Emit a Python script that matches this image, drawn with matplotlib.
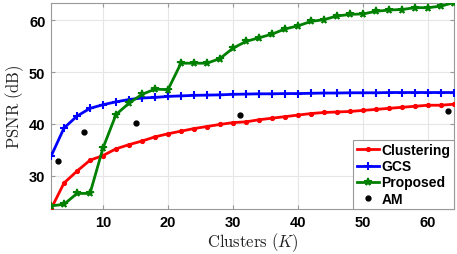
import matplotlib
matplotlib.use("Agg")
import matplotlib.pyplot as plt
import numpy as np

K = list(range(2, 65, 2))
clustering = [23.6, 28.6, 30.9, 33.0, 33.9, 35.2, 36.0, 36.7, 37.5, 38.1,
              38.6, 39.1, 39.5, 39.9, 40.25, 40.4, 40.8, 41.1, 41.4, 41.7,
              42.0, 42.2, 42.3, 42.4, 42.6, 42.8, 43.0, 43.2, 43.4, 43.6,
              43.6, 43.8]
gcs = [33.75, 39.2, 41.5, 43.0, 43.7, 44.25, 44.7, 45.0, 45.1, 45.3,
       45.4, 45.5, 45.55, 45.6, 45.7, 45.75, 45.8, 45.8, 45.85, 45.85,
       45.9, 45.95, 45.95, 46.0, 46.0, 46.0, 46.05, 46.05, 46.05, 46.05,
       46.05, 46.05]
proposed = [24.2, 24.5, 26.6, 26.6, 35.35, 41.8, 44.0, 45.7, 46.7, 46.6,
            51.7, 51.7, 51.7, 52.6, 54.6, 55.9, 56.6, 57.3, 58.3, 58.9,
            59.75, 60.1, 60.8, 61.1, 61.2, 61.7, 61.95, 62.05, 62.4, 62.4,
            62.7, 63.4]
am_K = [3, 7, 15, 31, 63]
am = [32.9, 38.5, 40.2, 41.8, 42.55]

xticks = [10, 20, 30, 40, 50, 60]
yticks = [30, 40, 50, 60]

plt.rcParams['mathtext.fontset'] = 'cm'
tickfont = {'family': 'Liberation Sans', 'weight': 'bold', 'size': 10.5}

fig = plt.figure(figsize=(4.57, 2.55), dpi=100)
ax = fig.add_axes([51/457, 1-210/255, (454-51)/457, (210-3.5)/255])

ax.plot(K, clustering, color='red', lw=2, marker='.', ms=5.5, label='Clustering', zorder=3)
ax.plot(K, gcs, color='blue', lw=2, marker='+', ms=5.5, mew=1.5, label='GCS', zorder=3)
ax.plot(K, proposed, color='#008000', lw=2, marker='*', ms=5.5, mew=1.2, label='Proposed', zorder=3)
ax.plot(am_K, am, ls='none', color='black', marker='.', ms=7, label='AM', zorder=4)

ax.set_xlim(2, 64)
ax.set_ylim(23.6, 63.4)
ax.set_xticks(xticks)
ax.set_yticks(yticks)
ax.set_xticklabels([str(t) for t in xticks], fontdict=tickfont)
ax.set_yticklabels([str(t) for t in yticks], fontdict=tickfont)
ax.tick_params(direction='in', length=3, color='#999999', pad=4, top=True, right=True)
ax.grid(True, color='#e6e6e6', lw=0.8, zorder=0)
ax.set_axisbelow(True)
for s in ax.spines.values():
    s.set_color('#999999')
    s.set_linewidth(0.8)

ax.set_xlabel(r'$\mathrm{Clusters}\ (K)$', fontsize=12, labelpad=1, color='#222222')
ax.set_ylabel(r'$\mathrm{PSNR\ (dB)}$', fontsize=12, labelpad=2, color='#222222')

leg = ax.legend(loc='lower right', borderaxespad=0, fancybox=False,
                prop={'family': 'Liberation Sans', 'weight': 'bold', 'size': 10},
                handlelength=1.6, handletextpad=0.2, labelspacing=0.15,
                borderpad=0.25, framealpha=1)
leg.get_frame().set_edgecolor('#999999')
leg.get_frame().set_linewidth(0.8)

fig.savefig('out.png', dpi=100)
